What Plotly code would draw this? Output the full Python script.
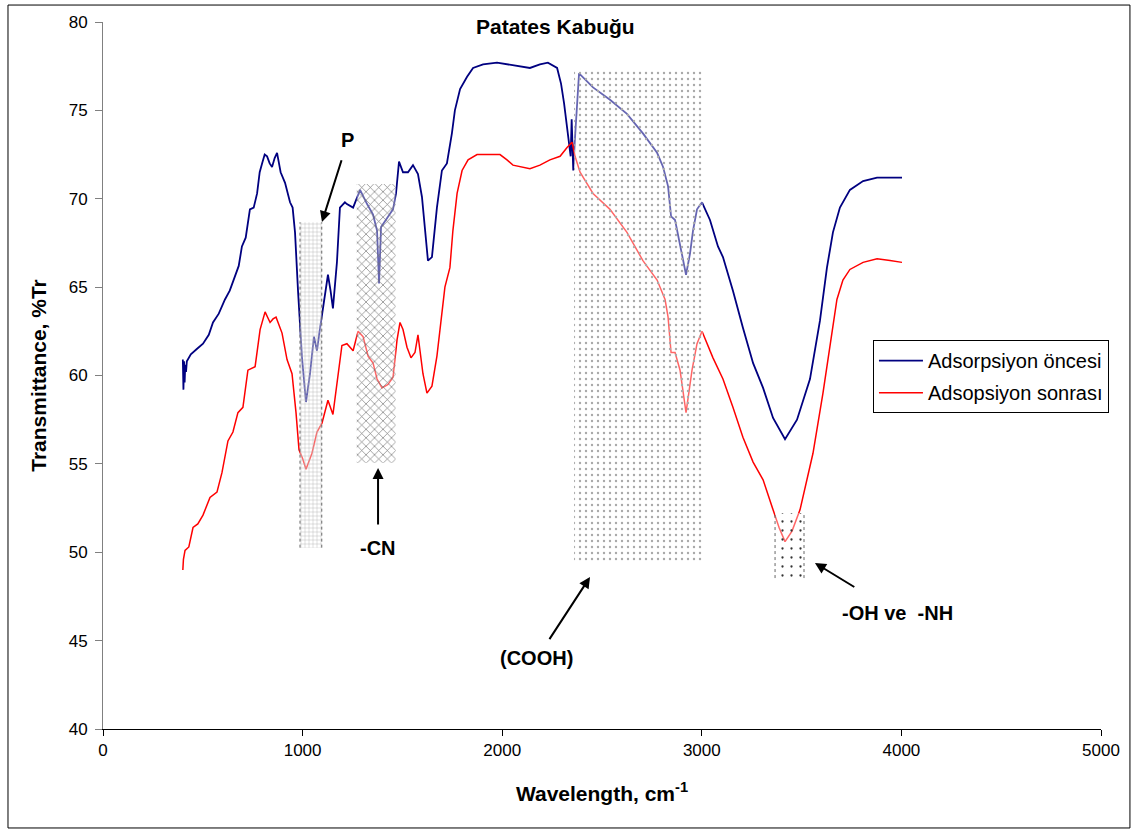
import plotly.graph_objects as go

# FTIR spectrum of potato peel, before and after adsorption
wn_before = [400, 403, 406, 409, 412, 416, 420, 440, 470, 501, 530, 551, 580, 611, 635, 661, 680, 696,
             715, 736, 755, 772, 785, 797, 810, 822, 835, 847, 860, 872, 890, 912, 937, 950, 962, 977,
             997, 1017, 1027, 1037, 1057, 1072, 1085, 1097, 1127, 1140, 1152, 1172, 1187, 1212, 1222,
             1253, 1288, 1323, 1353, 1373, 1383, 1393, 1423, 1453, 1468, 1483, 1503, 1528, 1553, 1578,
             1598, 1613, 1628, 1648, 1673, 1698, 1723, 1748, 1763, 1789, 1824, 1854, 1904, 1974, 2024,
             2074, 2139, 2189, 2229, 2275, 2295, 2310, 2325, 2335, 2343, 2348, 2352, 2356, 2365, 2375,
             2385, 2455, 2540, 2625, 2705, 2776, 2806, 2831, 2846, 2866, 2891, 2921, 2941, 2956, 2976,
             3001, 3041, 3081, 3106, 3156, 3206, 3257, 3307, 3357, 3417, 3477, 3542, 3592, 3627, 3657,
             3692, 3742, 3808, 3878, 3943, 4003]
tr_before = [60.9, 59.2, 60.8, 59.6, 60.6, 60.2, 60.8, 61.2, 61.5, 61.8, 62.3, 63.0, 63.5, 64.3, 64.8,
             65.6, 66.2, 67.3, 67.8, 69.4, 69.5, 70.3, 71.5, 72.0, 72.5, 72.4, 72.0, 71.8, 72.3, 72.6,
             71.5, 70.9, 69.8, 69.5, 68.1, 64.8, 61.0, 58.5, 59.3, 60.1, 62.2, 61.4, 62.5, 63.5, 65.7,
             64.8, 63.8, 66.4, 69.5, 69.8, 69.7, 69.5, 70.5, 69.7, 69.1, 68.2, 65.2, 68.4, 68.9, 69.4,
             70.3, 72.1, 71.5, 71.5, 71.9, 71.4, 70.1, 68.1, 66.5, 66.7, 69.5, 71.6, 72.0, 73.7, 75.0,
             76.2, 76.9, 77.4, 77.6, 77.7, 77.6, 77.5, 77.4, 77.6, 77.7, 77.4, 76.5, 75.4, 74.1, 73.3,
             72.4, 74.5, 72.0, 71.6, 73.5, 75.6, 77.1, 76.3, 75.6, 74.8, 73.7, 72.6, 71.8, 70.7, 69.0,
             68.8, 67.3, 65.7, 66.9, 68.2, 69.4, 69.8, 68.8, 67.3, 66.7, 64.8, 62.7, 60.7, 59.3, 57.6,
             56.4, 57.5, 59.8, 63.1, 66.1, 68.1, 69.5, 70.5, 71.0, 71.2, 71.2, 71.2]

wn_after = [400, 403, 411, 430, 451, 475, 501, 536, 571, 596, 626, 651, 676, 701, 726, 762, 787, 812,
            837, 852, 867, 897, 922, 947, 967, 982, 1000, 1017, 1047, 1072, 1097, 1127, 1152, 1172,
            1197, 1222, 1253, 1278, 1303, 1328, 1353, 1373, 1398, 1428, 1453, 1473, 1488, 1503, 1523,
            1543, 1563, 1578, 1588, 1603, 1623, 1648, 1673, 1688, 1713, 1738, 1753, 1774, 1799, 1829,
            1874, 1904, 1989, 2024, 2054, 2139, 2189, 2239, 2290, 2325, 2350, 2365, 2390, 2455, 2540,
            2625, 2705, 2776, 2816, 2831, 2846, 2866, 2891, 2921, 2951, 2976, 3001, 3056, 3106, 3156,
            3206, 3257, 3307, 3357, 3387, 3417, 3452, 3492, 3557, 3607, 3642, 3677, 3707, 3742, 3808,
            3878, 3943, 4003]
tr_after = [49.0, 49.6, 50.1, 50.3, 51.4, 51.6, 52.1, 53.1, 53.4, 54.5, 56.3, 56.8, 57.9, 58.2, 60.3,
            60.5, 62.6, 63.6, 63.0, 63.2, 63.3, 62.4, 60.9, 60.1, 57.9, 55.8, 55.3, 54.7, 55.6, 56.8,
            57.3, 58.6, 57.8, 59.4, 61.7, 61.8, 61.4, 62.5, 62.2, 61.1, 60.7, 59.8, 59.3, 59.5, 59.9,
            62.0, 63.0, 62.6, 61.6, 61.0, 61.3, 62.3, 61.3, 60.1, 59.0, 59.4, 61.1, 62.7, 65.0, 66.1,
            68.2, 70.3, 71.6, 72.2, 72.5, 72.5, 72.5, 72.2, 71.9, 71.7, 71.9, 72.2, 72.4, 72.9, 73.2,
            72.4, 71.5, 70.3, 69.4, 68.1, 66.5, 65.4, 64.3, 63.3, 61.3, 61.3, 60.3, 57.9, 60.3, 61.8,
            62.5, 61.0, 59.8, 58.2, 56.5, 55.1, 54.1, 52.4, 51.4, 50.6, 51.2, 52.4, 55.6, 59.0, 61.6,
            64.3, 65.4, 66.0, 66.4, 66.6, 66.5, 66.4]

# highlighted band regions (P, -CN, COOH, -OH/-NH)
band_left = [987, 1271, 2360, 3367]
band_right = [1096, 1466, 3006, 3512]
band_bottom = [50.26, 55.07, 49.45, 48.54]
band_top = [68.67, 70.83, 77.34, 52.22]
band_shape = ["+", "x", ".", "."]
band_fg = ["#b4b4b4", "#6e6e6e", "#a8a8a8", "#333333"]
band_size = [4, 6, 6, 9]
band_solidity = [0.2, 0.2, 0.12, 0.05]

# band labels, with arrows pointing at the bands
label_text = ["P", "-CN", "(COOH)", "-OH ve  -NH"]
label_x = [1227, 1378, 2174, 3978]
label_y = [73.32, 50.24, 44.0, 46.56]
arrow_head_x = [1097, 1378, 2440, 3567]
arrow_head_y = [68.68, 54.77, 48.6, 49.39]
arrow_gap = [8, 11, 8, 26]

FONT = "Arial, Liberation Sans, sans-serif"

fig = go.Figure()
fig.add_trace(go.Scatter(x=wn_before, y=tr_before, mode="lines", name="Adsorpsiyon öncesi",
                         legendgroup="a", line=dict(color="#000080", width=1.8)))
fig.add_trace(go.Scatter(x=wn_after, y=tr_after, mode="lines", name="Adsopsiyon sonrası",
                         legendgroup="b", line=dict(color="#ff0000", width=1.5)))

# textured bands drawn on an overlaid axis pair so they sit above the spectra
for i in range(len(band_left)):
    fig.add_trace(go.Bar(
        x=[(band_left[i] + band_right[i]) / 2], y=[band_top[i] - band_bottom[i]],
        base=[band_bottom[i]], width=[band_right[i] - band_left[i]],
        xaxis="x2", yaxis="y2", showlegend=False, hoverinfo="skip",
        marker=dict(color="rgba(255,255,255,0.4)", line=dict(width=0),
                    pattern=dict(shape=band_shape[i], fgcolor=band_fg[i],
                                 bgcolor="rgba(255,255,255,0.4)", size=band_size[i],
                                 solidity=band_solidity[i], fillmode="replace")),
    ))

shapes = []
for i in (0, 3):
    for xv in (band_left[i], band_right[i]):
        shapes.append(dict(type="line", xref="x", yref="y", x0=xv, x1=xv,
                           y0=band_bottom[i], y1=band_top[i], layer="above",
                           line=dict(color="#666666", width=1, dash="dot")))
# outer chart frame
shapes.append(dict(type="rect", xref="paper", yref="paper", x0=-0.0952, x1=1.029,
                   y0=-0.14, y1=1.024, line=dict(color="black", width=1)))

annotations = []
for i in range(len(label_text)):
    annotations.append(dict(x=arrow_head_x[i], y=arrow_head_y[i], ax=label_x[i], ay=label_y[i],
                            xref="x", yref="y", axref="x", ayref="y",
                            text=f"<b>{label_text[i]}</b>", showarrow=True,
                            arrowhead=2, arrowsize=1.1, arrowwidth=2, arrowcolor="black",
                            startstandoff=arrow_gap[i],
                            font=dict(family=FONT, size=20, color="black")))
annotations.append(dict(x=0.453, y=0.993, xref="paper", yref="paper", text="<b>Patates Kabuğu</b>",
                        xanchor="center", yanchor="middle",
                        showarrow=False, font=dict(family=FONT, size=21, color="black")))

fig.update_layout(
    width=1138, height=832,
    margin=dict(l=103, r=37, t=22, b=103),
    paper_bgcolor="white", plot_bgcolor="white",
    font=dict(family=FONT, color="black"),
    barmode="overlay",
    showlegend=True,
    legend=dict(x=0.7715, y=0.55, xanchor="left", yanchor="top", bgcolor="white",
                bordercolor="black", borderwidth=1, font=dict(family=FONT, size=20),
                tracegroupgap=3, itemwidth=44),
    xaxis=dict(range=[0, 5000], tickvals=[0, 1000, 2000, 3000, 4000, 5000], showgrid=False,
               zeroline=False, showline=True, linecolor="black", linewidth=1, ticks="outside",
               ticklen=6, tickcolor="black", tickfont=dict(family=FONT, size=17),
               title=dict(text="<b>Wavelength, cm<sup>-1</sup></b>", font=dict(family=FONT, size=21),
                          standoff=26)),
    yaxis=dict(range=[40, 80], tickvals=[40, 45, 50, 55, 60, 65, 70, 75, 80], showgrid=False,
               zeroline=False, showline=True, linecolor="#808080", linewidth=1, ticks="outside",
               ticklen=7, tickcolor="#808080", tickfont=dict(family=FONT, size=17),
               ticklabelstandoff=4,
               title=dict(text="<b>Transmittance, %Tr</b>", font=dict(family=FONT, size=21),
                          standoff=16)),
    xaxis2=dict(overlaying="x", range=[0, 5000], visible=False, anchor="y2"),
    yaxis2=dict(overlaying="y", range=[40, 80], visible=False, anchor="x2"),
    shapes=shapes,
    annotations=annotations,
)

fig.write_html("out.html")
